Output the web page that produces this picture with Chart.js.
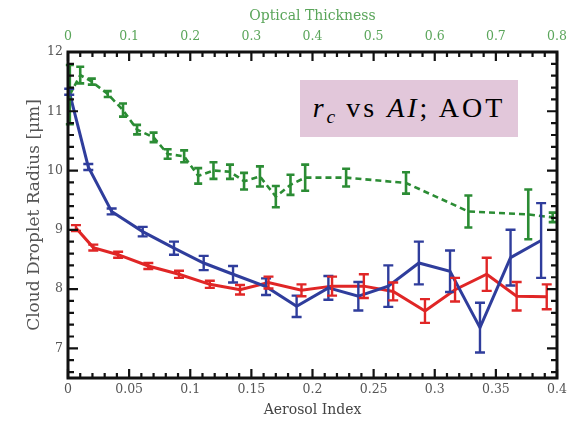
<!DOCTYPE html>
<html><head><meta charset="utf-8">
<script src="https://cdn.jsdelivr.net/npm/chart.js@4.4.0/dist/chart.umd.min.js"></script>
<style>
html,body{margin:0;padding:0;background:#fff;}
#wrap{position:relative;width:580px;height:422px;}
canvas{display:block;}
#note{position:absolute;left:300px;top:80px;width:218px;height:57px;background:#e2c7da;font-family:"Liberation Serif","Times New Roman",serif;font-size:28px;line-height:1;color:#000;display:flex;align-items:center;justify-content:center;white-space:nowrap;}
#note span{letter-spacing:3px;margin-top:-2px;}
#note sub{font-size:0.7em;vertical-align:-0.3em;line-height:0;letter-spacing:1px;}
</style></head><body>
<div id="wrap"><canvas id="c" width="580" height="422"></canvas><div id="note"><span><i>r<sub>c</sub></i> vs <i>AI</i>; AOT</span></div></div>
<script>
// Aerosol Index (bottom axis) series
const aiBlue = [0.001,0.0166,0.0357,0.0611,0.0867,0.111,0.135,0.162,0.187,0.213,0.2375,0.262,0.287,0.3125,0.337,0.362,0.387];
const rcBlue = [11.33,10.06,9.31,8.97,8.69,8.44,8.25,8.04,7.71,8.02,7.88,8.05,8.44,8.30,7.35,8.53,8.82];
const errBlue = [0.05,0.05,0.05,0.08,0.11,0.12,0.14,0.14,0.18,0.20,0.24,0.35,0.36,0.35,0.42,0.47,0.63];

const aiRed = [0.0065,0.0207,0.041,0.0657,0.0908,0.116,0.1407,0.164,0.191,0.216,0.242,0.266,0.292,0.3166,0.3425,0.367,0.3916];
const rcRed = [9.03,8.70,8.58,8.39,8.25,8.08,7.99,8.11,7.98,8.05,8.05,7.96,7.63,7.99,8.25,7.88,7.87];
const errRed = [0.05,0.05,0.05,0.05,0.06,0.06,0.08,0.10,0.10,0.16,0.20,0.15,0.20,0.20,0.28,0.24,0.21];

// Optical Thickness (top axis) series
const otGreen = [0.003,0.020,0.039,0.065,0.090,0.113,0.140,0.163,0.190,0.213,0.238,0.265,0.288,0.314,0.340,0.364,0.388,0.455,0.553,0.655,0.753,0.793];
const rcGreen = [11.28,11.61,11.50,11.29,11.02,10.69,10.56,10.28,10.24,9.91,10.00,9.98,9.82,9.90,9.56,9.76,9.88,9.88,9.79,9.31,9.26,9.21];
const errGreen = [0.50,0.14,0.05,0.05,0.11,0.08,0.08,0.08,0.10,0.13,0.14,0.12,0.14,0.17,0.18,0.17,0.22,0.15,0.18,0.27,0.42,0.08];

// tick labels
const xTicks = [0,0.05,0.1,0.15,0.2,0.25,0.3,0.35,0.4];
const x2Ticks = [0,0.1,0.2,0.3,0.4,0.5,0.6,0.7,0.8];
const yTicks = [7,8,9,10,11,12];

const xTitle = 'Aerosol Index';
const x2Title = 'Optical Thickness';
const yTitle = 'Cloud Droplet Radius [\u03bcm]';

function pts(xs, ys){ return xs.map((x,i)=>({x:x, y:ys[i]})); }
function fmt(v){ return String(+Number(v).toFixed(2)); }

const errorBars = {
  id:'errorBars',
  afterDatasetsDraw(chart){
    const ctx = chart.ctx;
    chart.data.datasets.forEach((ds)=>{
      if(!ds.errors) return;
      const xs = chart.scales[ds.xAxisID], ys = chart.scales[ds.yAxisID];
      const cap = ds.capHalf;
      ctx.save();
      ctx.strokeStyle = ds.borderColor; ctx.lineWidth = ds.errWidth; ctx.setLineDash([]);
      ctx.lineCap = 'butt';
      ds.data.forEach((p,j)=>{
        const e = ds.errors[j];
        const px = xs.getPixelForValue(p.x);
        const y1 = ys.getPixelForValue(p.y+e), y2 = ys.getPixelForValue(p.y-e);
        ctx.beginPath();
        ctx.moveTo(px,y1); ctx.lineTo(px,y2);
        ctx.moveTo(px-cap,y1); ctx.lineTo(px+cap,y1);
        ctx.moveTo(px-cap,y2); ctx.lineTo(px+cap,y2);
        ctx.stroke();
      });
      ctx.restore();
    });
  }
};

const frame = {
  id:'frame',
  afterDraw(chart){
    const ctx = chart.ctx;
    const {left,right,top,bottom} = chart.chartArea;
    const xs = chart.scales.x, ys = chart.scales.y;
    ctx.save();
    ctx.strokeStyle = '#111'; ctx.lineWidth = 2.2; ctx.setLineDash([]);
    ctx.beginPath();
    for(let k=0;k<=40;k++){
      const px = xs.getPixelForValue(k/100);
      const L = (k%5===0)?9:5;
      ctx.moveTo(px,bottom); ctx.lineTo(px,bottom-L);
      ctx.moveTo(px,top); ctx.lineTo(px,top+L);
    }
    for(let k=33;k<=60;k++){
      const py = ys.getPixelForValue(k/5);
      const L = (k%5===0)?10:6;
      ctx.moveTo(left,py); ctx.lineTo(left+L,py);
      ctx.moveTo(right,py); ctx.lineTo(right-L,py);
    }
    ctx.stroke();
    ctx.lineWidth = 3;
    ctx.strokeRect(left,top,right-left,bottom-top);
    ctx.restore();
  }
};

const GREEN = '#2b8c34', BLUE = '#2f3d9c', RED = '#e02626';
const tickFont = {family:'DejaVu Serif', size:12.5};

new Chart(document.getElementById('c'), {
  type:'line',
  data:{datasets:[
    {label:'AOT', data:pts(otGreen, rcGreen), errors:errGreen, xAxisID:'x2', yAxisID:'y',
     borderColor:GREEN, borderWidth:2.6, borderDash:[6,4], pointRadius:0, tension:0, fill:false, errWidth:2.6, capHalf:4},
    {label:'AI blue', data:pts(aiBlue, rcBlue), errors:errBlue, xAxisID:'x', yAxisID:'y',
     borderColor:BLUE, borderWidth:3, pointRadius:0, tension:0, fill:false, errWidth:2.4, capHalf:5},
    {label:'AI red', data:pts(aiRed, rcRed), errors:errRed, xAxisID:'x', yAxisID:'y',
     borderColor:RED, borderWidth:3, pointRadius:0, tension:0, fill:false, errWidth:2.4, capHalf:5}
  ]},
  options:{
    responsive:false, animation:false, devicePixelRatio:1,
    layout:{padding:{left:0,right:23,top:0,bottom:0}},
    plugins:{legend:{display:false}, tooltip:{enabled:false}},
    scales:{
      x:{type:'linear', position:'bottom', min:0, max:0.4,
        grid:{display:false, drawTicks:false}, border:{display:false},
        afterBuildTicks:(s)=>{ s.ticks = xTicks.map(v=>({value:v})); },
        afterFit:(s)=>{ s.height = 44; },
        ticks:{font:tickFont, color:'#555', padding:4.5, maxRotation:0, autoSkip:false, callback:(v)=>fmt(v)},
        title:{display:true, text:xTitle, font:{family:'DejaVu Serif', size:14}, color:'#444', padding:{top:0,bottom:3}}},
      x2:{type:'linear', position:'top', min:0, max:0.8,
        grid:{display:false, drawTicks:false}, border:{display:false},
        afterBuildTicks:(s)=>{ s.ticks = x2Ticks.map(v=>({value:v})); },
        afterFit:(s)=>{ s.height = 52; },
        ticks:{font:tickFont, color:'#5aa55a', padding:7.5, maxRotation:0, autoSkip:false, callback:(v)=>fmt(v)},
        title:{display:true, text:x2Title, font:{family:'DejaVu Serif', size:14}, color:'#5aa55a', padding:{top:7.5,bottom:0}}},
      y:{type:'linear', position:'left', min:6.5, max:12,
        grid:{display:false, drawTicks:false}, border:{display:false},
        afterBuildTicks:(s)=>{ s.ticks = yTicks.map(v=>({value:v})); },
        afterFit:(s)=>{ s.width = 68; },
        ticks:{font:tickFont, color:'#555', padding:5, callback:(v)=>fmt(v)},
        title:{display:true, text:yTitle, font:{family:'DejaVu Serif', size:17}, color:'#555', padding:{top:24,bottom:0}}}
    }
  },
  plugins:[errorBars, frame]
});
</script>
</body></html>
